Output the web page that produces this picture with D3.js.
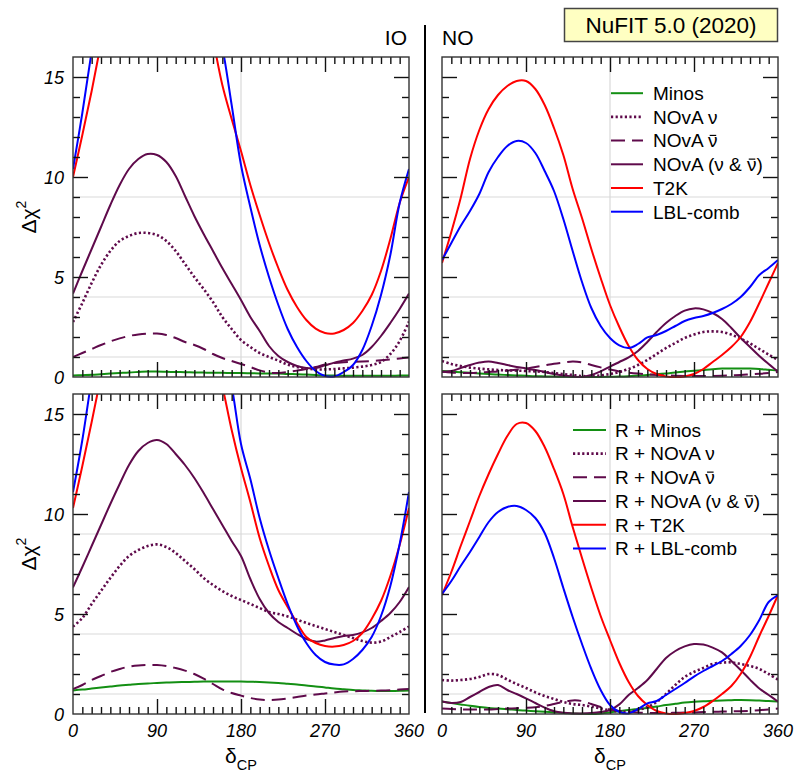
<!DOCTYPE html>
<html>
<head>
<meta charset="utf-8">
<script src="https://cdn.jsdelivr.net/npm/d3@7"></script>
<style>
  body { margin: 0; background: #fff; }
  svg text { font-family: "Liberation Sans", Arial, Helvetica, sans-serif; }
</style>
</head>
<body>
<svg id="chart" width="795" height="774"></svg>
<script>
// delta_CP grid (degrees)
var delta = [0,10,20,30,40,50,60,70,80,90,100,110,120,130,140,150,160,170,180,
             190,200,210,220,230,240,250,260,270,280,290,300,310,320,330,340,350,360];

// ---- upper row, IO ----
var ioMinos     = [0.07,0.09,0.11,0.14,0.17,0.2,0.23,0.25,0.27,0.27,0.26,0.25,0.24,0.23,0.22,0.21,0.21,0.2,0.2,0.19,0.18,0.18,0.17,0.15,0.14,0.12,0.1,0.08,0.07,0.06,0.06,0.06,0.06,0.06,0.06,0.07,0.07];
var ioNovaNu    = [2.75,3.7,4.7,5.6,6.3,6.8,7.05,7.2,7.2,7.1,6.8,6.3,5.65,5.0,4.4,3.75,3.0,2.4,1.85,1.5,1.2,1.0,0.82,0.62,0.5,0.42,0.38,0.38,0.4,0.43,0.47,0.52,0.6,0.75,1.15,1.8,2.77];
var ioNovaNubar = [1.0,1.2,1.4,1.6,1.78,1.93,2.05,2.13,2.17,2.17,2.1,1.95,1.75,1.6,1.4,1.15,0.95,0.8,0.65,0.5,0.33,0.22,0.2,0.25,0.32,0.4,0.5,0.62,0.7,0.74,0.76,0.78,0.8,0.84,0.88,0.93,0.98];
var ioNova      = [4.17,5.3,6.4,7.5,8.6,9.6,10.4,10.9,11.15,11.1,10.75,10.05,9.05,8.05,7.15,6.3,5.45,4.65,3.85,3.0,2.3,1.55,1.05,0.75,0.55,0.45,0.45,0.58,0.72,0.82,0.92,1.1,1.5,2.05,2.7,3.4,4.17];
var ioT2K       = [10.0,12.1,14.3,16.7,19.0,21.0,23.0,24.5,25.5,26.0,25.8,25.0,23.5,21.5,19.2,16.9,14.6,12.9,11.3,9.6,8.1,6.7,5.45,4.35,3.5,2.85,2.42,2.2,2.18,2.35,2.7,3.3,4.1,5.3,6.9,8.7,10.0];
var ioLBL       = [10.4,13.2,16.3,19.5,22.5,25.0,27.0,28.5,29.0,29.0,28.3,27.0,25.0,23.0,20.7,18.5,16.5,13.6,10.6,8.5,6.6,5.0,3.6,2.4,1.5,0.8,0.3,0.05,0.03,0.25,0.6,1.35,2.55,4.1,6.1,8.7,10.4];

// ---- upper row, NO ----
var noMinos     = [0.3,0.27,0.24,0.21,0.18,0.15,0.12,0.1,0.08,0.06,0.04,0.03,0.02,0.01,0.0,0.0,0.0,0.0,0.01,0.02,0.04,0.07,0.1,0.14,0.18,0.22,0.27,0.31,0.35,0.39,0.42,0.43,0.43,0.42,0.4,0.36,0.32];
var noNovaNu    = [0.8,0.65,0.55,0.47,0.42,0.38,0.35,0.33,0.32,0.3,0.28,0.25,0.2,0.15,0.1,0.05,0.04,0.08,0.15,0.25,0.4,0.6,0.85,1.15,1.45,1.7,1.95,2.12,2.25,2.28,2.25,2.12,1.92,1.68,1.4,1.12,0.85];
var noNovaNubar = [0.28,0.22,0.2,0.2,0.22,0.25,0.28,0.32,0.37,0.42,0.5,0.58,0.66,0.72,0.77,0.73,0.6,0.48,0.37,0.28,0.22,0.17,0.13,0.1,0.08,0.06,0.05,0.05,0.05,0.05,0.06,0.08,0.1,0.13,0.16,0.2,0.25];
var noNova      = [0.25,0.3,0.45,0.6,0.72,0.78,0.7,0.6,0.5,0.43,0.35,0.25,0.15,0.08,0.03,0.0,0.1,0.28,0.52,0.75,0.98,1.3,1.75,2.25,2.7,3.05,3.32,3.43,3.38,3.2,2.9,2.45,1.95,1.5,1.05,0.65,0.27];
var noT2K       = [5.7,7.25,8.95,10.9,12.35,13.4,14.1,14.55,14.8,14.8,14.4,13.6,12.45,11.1,9.4,7.95,6.4,4.95,3.6,2.5,1.55,0.85,0.4,0.15,0.03,0.0,0.03,0.15,0.4,0.75,1.1,1.5,2.0,2.75,3.7,4.7,5.7];
var noLBL       = [5.85,6.7,7.55,8.3,9.15,10.25,11.0,11.55,11.8,11.7,11.2,10.3,9.3,7.9,6.3,4.75,3.45,2.55,1.95,1.58,1.45,1.65,1.98,2.1,2.3,2.55,2.8,2.95,3.05,3.2,3.4,3.65,4.0,4.5,5.1,5.45,5.85];

// ---- lower row, IO (R + ...) ----
var ioRMinos     = [1.18,1.22,1.27,1.32,1.37,1.42,1.46,1.5,1.53,1.55,1.57,1.59,1.6,1.61,1.62,1.62,1.62,1.62,1.62,1.61,1.6,1.58,1.55,1.51,1.47,1.42,1.38,1.33,1.28,1.24,1.2,1.18,1.16,1.15,1.15,1.16,1.18];
var ioRNovaNu    = [4.37,4.8,5.5,6.15,6.8,7.4,7.9,8.2,8.4,8.48,8.35,8.05,7.65,7.25,6.8,6.45,6.15,5.9,5.7,5.5,5.3,5.1,5.0,4.88,4.72,4.55,4.4,4.25,4.1,3.95,3.8,3.65,3.57,3.62,3.85,4.1,4.37];
var ioRNovaNubar = [1.25,1.45,1.7,1.9,2.1,2.25,2.37,2.43,2.45,2.45,2.4,2.3,2.17,2.0,1.77,1.5,1.23,1.05,0.92,0.8,0.72,0.7,0.72,0.78,0.85,0.92,0.98,1.03,1.08,1.12,1.14,1.15,1.16,1.17,1.19,1.22,1.25];
var ioRNova      = [6.33,7.35,8.4,9.45,10.5,11.5,12.45,13.15,13.55,13.7,13.5,13.0,12.45,11.8,11.05,10.25,9.45,8.65,7.9,6.75,5.75,5.05,4.6,4.3,4.0,3.75,3.62,3.68,3.8,3.9,3.95,4.08,4.3,4.65,5.05,5.6,6.35];
var ioRT2K       = [10.3,12.4,14.6,16.9,19.2,21.5,23.5,25.0,26.0,26.5,26.3,25.5,24.0,22.2,20.3,18.3,16.4,14.2,12.3,10.6,8.8,7.4,6.2,5.35,4.55,3.85,3.55,3.4,3.37,3.45,3.65,4.05,4.75,5.65,6.9,8.45,10.3];
var ioRLBL       = [11.1,13.7,16.8,20.0,23.0,26.0,28.5,30.0,31.0,31.2,30.8,29.5,27.5,25.3,23.0,20.7,18.5,16.4,13.5,11.75,9.8,8.2,6.8,5.5,4.4,3.55,2.95,2.6,2.47,2.48,2.75,3.2,3.85,4.9,6.4,8.5,11.1];

// ---- lower row, NO (R + ...) ----
var noRMinos     = [0.62,0.55,0.48,0.41,0.35,0.3,0.27,0.24,0.2,0.17,0.14,0.11,0.08,0.05,0.03,0.01,0.0,0.03,0.08,0.14,0.2,0.25,0.3,0.37,0.45,0.51,0.57,0.61,0.64,0.66,0.68,0.69,0.7,0.69,0.67,0.65,0.62];
var noRNovaNu    = [1.7,1.67,1.7,1.75,1.85,2.0,1.95,1.72,1.5,1.3,1.08,0.9,0.75,0.6,0.5,0.45,0.37,0.28,0.18,0.12,0.12,0.2,0.35,0.6,1.0,1.45,1.85,2.1,2.3,2.5,2.57,2.58,2.5,2.4,2.25,2.0,1.72];
var noRNovaNubar = [0.28,0.25,0.23,0.22,0.22,0.23,0.25,0.27,0.29,0.31,0.34,0.4,0.5,0.6,0.68,0.65,0.5,0.35,0.23,0.15,0.1,0.07,0.05,0.05,0.05,0.06,0.07,0.08,0.1,0.11,0.12,0.13,0.14,0.16,0.19,0.23,0.28];
var noRNova      = [0.62,0.55,0.6,0.85,1.1,1.35,1.45,1.2,1.0,0.78,0.55,0.32,0.14,0.06,0.03,0.03,0.05,0.1,0.2,0.48,0.95,1.3,1.7,2.25,2.8,3.15,3.38,3.5,3.47,3.32,3.08,2.65,2.2,1.72,1.28,0.95,0.62];
var noRT2K       = [5.95,7.1,8.4,9.65,10.9,12.0,13.0,13.9,14.5,14.55,14.15,13.35,12.25,11.0,9.35,7.8,6.3,4.9,3.7,2.55,1.6,0.9,0.45,0.15,0.03,0.0,0.05,0.15,0.35,0.65,1.0,1.4,2.0,2.85,3.9,4.9,5.95];
var noRLBL       = [6.0,6.65,7.4,8.1,8.85,9.6,10.1,10.35,10.4,10.2,9.8,9.05,7.8,6.3,4.85,3.5,2.25,1.2,0.45,0.1,0.03,0.25,0.53,0.65,0.95,1.25,1.55,1.87,2.15,2.4,2.65,3.0,3.4,3.95,4.7,5.6,5.95];

// legends and ticks
var topLegend = ["Minos", "NOvA \u03bd", "NOvA \u03bd\u0304", "NOvA (\u03bd & \u03bd\u0304)", "T2K", "LBL-comb"];
var botLegend = ["R + Minos", "R + NOvA \u03bd", "R + NOvA \u03bd\u0304", "R + NOvA (\u03bd & \u03bd\u0304)", "R + T2K", "R + LBL-comb"];
var xTickLabels = [0, 90, 180, 270, 360];
var yTickLabels = [0, 5, 10, 15];
var gridY = [1, 4, 9];

var purple = "#5f0a4b";
var styles = [
  {color: "#138f13", width: 2,   dash: null},
  {color: purple,    width: 2.6, dash: "2.2,2.4"},
  {color: purple,    width: 2,   dash: "14,7"},
  {color: purple,    width: 2,   dash: null},
  {color: "#ff0000", width: 2,   dash: null},
  {color: "#0000ff", width: 2,   dash: null}
];

var panels = [
  {x0: 73,  x1: 409, y0: 57,  y1: 377, series: [ioMinos, ioNovaNu, ioNovaNubar, ioNova, ioT2K, ioLBL], left: true,  bottom: false},
  {x0: 442, x1: 778, y0: 57,  y1: 377, series: [noMinos, noNovaNu, noNovaNubar, noNova, noT2K, noLBL], left: false, bottom: false,
   legend: {labels: topLegend, lx1: 611, lx2: 643, tx: 653, ty: 100}},
  {x0: 73,  x1: 409, y0: 394, y1: 714, series: [ioRMinos, ioRNovaNu, ioRNovaNubar, ioRNova, ioRT2K, ioRLBL], left: true,  bottom: true},
  {x0: 442, x1: 778, y0: 394, y1: 714, series: [noRMinos, noRNovaNu, noRNovaNubar, noRNova, noRT2K, noRLBL], left: false, bottom: true,
   legend: {labels: botLegend, lx1: 573, lx2: 606, tx: 615, ty: 436.7}}
];

var svg = d3.select("#chart");
var defs = svg.append("defs");

// text with a bar over the nu when followed by a combining macron
function barText(g, x, y, str, size) {
    var bars = [];
    var plain = "";
    for (var ch of str) {
        if (ch === "\u0304") bars.push(plain.length - 1);
        else plain += ch;
    }
    var t = g.append("text").attr("x", x).attr("y", y)
        .attr("font-size", size).attr("fill", "#000").text(plain);
    bars.forEach(function(i) {
        var e = t.node().getExtentOfChar(i);
        g.append("line")
            .attr("x1", e.x + 1.8).attr("x2", e.x + e.width - 1.2)
            .attr("y1", y - size * 0.63).attr("y2", y - size * 0.63)
            .attr("stroke", "#000").attr("stroke-width", 1.2);
    });
}

panels.forEach(function(p, pi) {
    var x = d3.scaleLinear().domain([0, 360]).range([p.x0, p.x1]);
    var y = d3.scaleLinear().domain([0, 16]).range([p.y1, p.y0]);
    var g = svg.append("g");

    defs.append("clipPath").attr("id", "clip" + pi)
        .append("rect")
        .attr("x", p.x0).attr("y", p.y0)
        .attr("width", p.x1 - p.x0).attr("height", p.y1 - p.y0 + 1);

    // grid
    g.selectAll(".gy").data(gridY).enter().append("line")
        .attr("x1", p.x0).attr("x2", p.x1)
        .attr("y1", d => y(d)).attr("y2", d => y(d))
        .attr("stroke", "#d9d9d9").attr("stroke-width", 1.2);
    g.append("line")
        .attr("x1", x(180)).attr("x2", x(180))
        .attr("y1", p.y0).attr("y2", p.y1)
        .attr("stroke", "#d9d9d9").attr("stroke-width", 1.2);

    // curves
    var curves = g.append("g").attr("clip-path", "url(#clip" + pi + ")");
    p.series.forEach(function(vals, si) {
        var line = d3.line()
            .x((d, i) => x(delta[i]))
            .y(d => y(d))
            .curve(d3.curveCatmullRom.alpha(0.5));
        var s = styles[si];
        curves.append("path")
            .attr("d", line(vals))
            .attr("fill", "none")
            .attr("stroke", s.color)
            .attr("stroke-width", s.width)
            .attr("stroke-dasharray", s.dash);
    });

    // ticks on all four sides, pointing inwards
    var xMajor = [90, 180, 270];
    var xMinor = d3.range(10, 360, 10).filter(d => xMajor.indexOf(d) < 0);
    var yMajor = [5, 10, 15];
    var yMinor = d3.range(1, 16).filter(d => yMajor.indexOf(d) < 0);

    function tickAxis(axis, transform) {
        var a = g.append("g").attr("transform", transform).call(axis);
        a.select(".domain").remove();
        a.selectAll("line").attr("stroke", "#111").attr("stroke-width", 1.4);
    }
    tickAxis(d3.axisBottom(x).tickValues(xMajor).tickSize(-15).tickSizeOuter(0).tickFormat(""), "translate(0," + p.y1 + ")");
    tickAxis(d3.axisBottom(x).tickValues(xMinor).tickSize(-7).tickSizeOuter(0).tickFormat(""), "translate(0," + p.y1 + ")");
    tickAxis(d3.axisTop(x).tickValues(xMajor).tickSize(-15).tickSizeOuter(0).tickFormat(""), "translate(0," + p.y0 + ")");
    tickAxis(d3.axisTop(x).tickValues(xMinor).tickSize(-7).tickSizeOuter(0).tickFormat(""), "translate(0," + p.y0 + ")");
    tickAxis(d3.axisLeft(y).tickValues(yMajor).tickSize(-15).tickSizeOuter(0).tickFormat(""), "translate(" + p.x0 + ",0)");
    tickAxis(d3.axisLeft(y).tickValues(yMinor).tickSize(-7).tickSizeOuter(0).tickFormat(""), "translate(" + p.x0 + ",0)");
    tickAxis(d3.axisRight(y).tickValues(yMajor).tickSize(-15).tickSizeOuter(0).tickFormat(""), "translate(" + p.x1 + ",0)");
    tickAxis(d3.axisRight(y).tickValues(yMinor).tickSize(-7).tickSizeOuter(0).tickFormat(""), "translate(" + p.x1 + ",0)");

    // frame
    g.append("rect")
        .attr("x", p.x0).attr("y", p.y0)
        .attr("width", p.x1 - p.x0).attr("height", p.y1 - p.y0)
        .attr("fill", "none").attr("stroke", "#333").attr("stroke-width", 1.4);

    // tick labels
    if (p.left) {
        g.selectAll(".yl").data(yTickLabels).enter().append("text")
            .attr("x", p.x0 - 9).attr("y", d => y(d) + 6.5)
            .attr("text-anchor", "end").attr("font-size", 18)
            .attr("font-style", "italic").text(d => d);
        var yl = g.append("text")
            .attr("transform", "translate(36," + ((p.y0 + p.y1) / 2) + ") rotate(-90)")
            .attr("text-anchor", "middle").attr("font-size", 21);
        yl.append("tspan").text("\u0394\u03c7");
        yl.append("tspan").attr("font-size", 14).attr("dy", -10).text("2");
    }
    if (p.bottom) {
        g.selectAll(".xl").data(xTickLabels).enter().append("text")
            .attr("x", d => x(d)).attr("y", 736.5)
            .attr("text-anchor", "middle").attr("font-size", 18)
            .attr("font-style", "italic").text(d => d);
        var xl = g.append("text")
            .attr("x", x(180)).attr("y", 763)
            .attr("text-anchor", "middle").attr("font-size", 21);
        xl.append("tspan").text("\u03b4");
        xl.append("tspan").attr("font-size", 14.5).attr("dy", 7).text("CP");
    }

    // legend
    if (p.legend) {
        var L = p.legend;
        L.labels.forEach(function(lab, i) {
            var ty = L.ty + i * 23.7;
            var s = styles[i];
            g.append("line")
                .attr("x1", L.lx1).attr("x2", L.lx2)
                .attr("y1", ty - 6.8).attr("y2", ty - 6.8)
                .attr("stroke", s.color).attr("stroke-width", s.width)
                .attr("stroke-dasharray", s.dash);
            barText(g, L.tx, ty, lab, 19);
        });
    }
});

// panel labels and separator
svg.append("text").attr("x", 407).attr("y", 45).attr("text-anchor", "end")
    .attr("font-size", 21).text("IO");
svg.append("text").attr("x", 442).attr("y", 45)
    .attr("font-size", 21).text("NO");
svg.append("line").attr("x1", 425).attr("x2", 425).attr("y1", 25).attr("y2", 713)
    .attr("stroke", "#000").attr("stroke-width", 2);

// title box
svg.append("rect").attr("x", 564.5).attr("y", 8.5).attr("width", 213).attr("height", 33)
    .attr("fill", "#ffffc2").attr("stroke", "#444").attr("stroke-width", 1.5);
svg.append("text").attr("x", 671).attr("y", 33.3).attr("text-anchor", "middle")
    .attr("font-size", 22.5).text("NuFIT 5.0 (2020)");
</script>
</body>
</html>
